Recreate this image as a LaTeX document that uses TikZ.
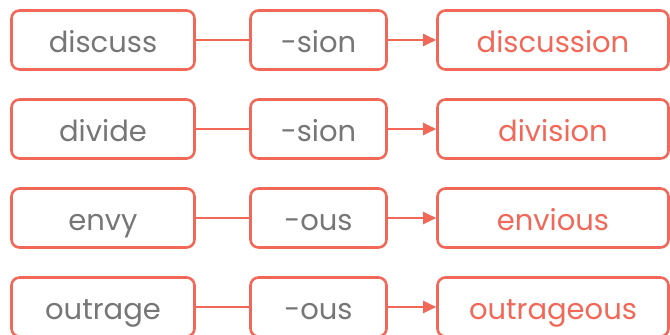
\documentclass[tikz,border=0pt]{standalone}
\usepackage{fontspec}
\setmainfont{Poppins}
\usepackage{tikz}
\usetikzlibrary{arrows.meta, positioning}

\definecolor{coral}{RGB}{242,104,88}
\definecolor{wordgray}{RGB}{118,118,118}

\begin{document}
\begin{tikzpicture}[x=1pt, y=-1pt,
    wordbox/.style={draw=coral, line width=2.6pt, rounded corners=8pt,
        minimum height=59pt, inner sep=0pt, text height=25pt, text depth=0pt,
        font=\fontsize{29}{32}\selectfont},
    basebox/.style={wordbox, minimum width=183pt, text=wordgray},
    suffixbox/.style={wordbox, minimum width=136pt, text=wordgray},
    resultbox/.style={wordbox, minimum width=231pt, text=coral},
    link/.style={draw=coral, line width=2.4pt},
    derive/.style={link, -{Triangle[length=13pt, width=12pt]}}]
\useasboundingbox (0,0) rectangle (670,335);

% discuss
\node[basebox] (base1) at (103,40) {discuss};
\node[suffixbox] (suf1) at (318.5,40) {-sion};
\node[resultbox] (res1) at (553,40) {discussion};
% divide
\node[basebox] (base2) at (103,129) {divide};
\node[suffixbox] (suf2) at (318.5,129) {-sion};
\node[resultbox] (res2) at (553,129) {division};
% envy
\node[basebox] (base3) at (103,218) {envy};
\node[suffixbox] (suf3) at (318.5,218) {-ous};
\node[resultbox] (res3) at (553,218) {envious};
% outrage
\node[basebox] (base4) at (103,307) {outrage};
\node[suffixbox] (suf4) at (318.5,307) {-ous};
\node[resultbox] (res4) at (553,307) {outrageous};

% connectors
\draw[link] (base1) -- (suf1);
\draw[derive] (suf1) -- (res1);
\draw[link] (base2) -- (suf2);
\draw[derive] (suf2) -- (res2);
\draw[link] (base3) -- (suf3);
\draw[derive] (suf3) -- (res3);
\draw[link] (base4) -- (suf4);
\draw[derive] (suf4) -- (res4);
\end{tikzpicture}
\end{document}
